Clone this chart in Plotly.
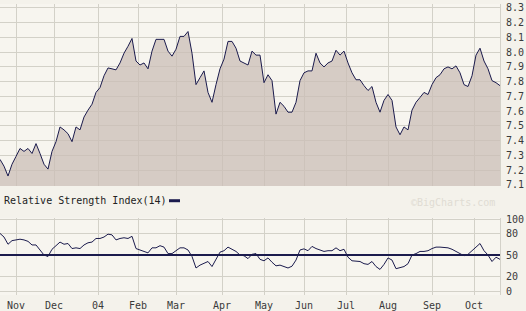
import pandas as pd
import plotly.graph_objects as go

# ---------------- data ----------------
start_date = "2003-10-22"
end_date = "2004-10-20"
holidays = ["2003-11-27", "2003-12-25", "2004-01-01", "2004-01-19", "2004-02-16",
            "2004-04-09", "2004-05-31", "2004-06-11", "2004-07-05", "2004-09-06"]

# closing price, every second trading day
price = [7.273, 7.227, 7.160, 7.240, 7.293, 7.347, 7.327, 7.347, 7.313, 7.380,
         7.313, 7.240, 7.207, 7.327, 7.393, 7.493, 7.473, 7.447, 7.393, 7.493,
         7.473, 7.560, 7.607, 7.647, 7.727, 7.760, 7.840, 7.893, 7.887, 7.880,
         7.927, 7.993, 8.040, 8.093, 7.940, 7.913, 7.927, 7.887, 8.007, 8.087,
         8.087, 8.087, 8.007, 7.973, 8.020, 8.107, 8.107, 8.140, 7.993, 7.780,
         7.827, 7.873, 7.727, 7.660, 7.780, 7.887, 7.953, 8.073, 8.073, 8.027,
         7.940, 7.927, 7.913, 8.007, 7.980, 7.980, 7.793, 7.847, 7.807, 7.580,
         7.660, 7.633, 7.593, 7.593, 7.660, 7.807, 7.860, 7.873, 7.873, 7.993,
         7.927, 7.900, 7.927, 7.940, 8.013, 7.980, 8.007, 7.927, 7.860, 7.813,
         7.813, 7.773, 7.740, 7.767, 7.660, 7.593, 7.673, 7.713, 7.673, 7.493,
         7.440, 7.493, 7.473, 7.607, 7.660, 7.693, 7.727, 7.713, 7.780, 7.827,
         7.847, 7.887, 7.900, 7.887, 7.907, 7.860, 7.780, 7.767, 7.840, 7.980,
         8.027, 7.940, 7.887, 7.807, 7.793, 7.773]

# Relative Strength Index(14), same dates
rsi = [80, 75, 65, 70, 71, 72, 71, 69, 64, 64,
       57, 50, 48, 58, 63, 68, 65, 66, 59, 60,
       59, 64, 67, 68, 73, 73, 75, 79, 78, 71,
       73, 74, 73, 76, 59, 57, 55, 53, 60, 60,
       63, 61, 52, 52, 56, 60, 60, 57, 48, 32,
       36, 39, 41, 34, 45, 54, 56, 61, 58, 55,
       50, 49, 45, 51, 52, 44, 42, 46, 40, 35,
       36, 34.5, 32, 34.5, 43, 57, 58.6, 56, 62, 59,
       57, 55, 56, 56, 60, 56, 58, 47, 42, 41,
       41, 38, 37, 41, 34, 30, 37, 46, 43, 31,
       32, 34, 38, 50, 52, 55, 55, 56, 59, 61,
       61, 61, 60, 58, 55, 52, 49, 51, 56, 61,
       66, 56, 50, 41, 47, 44]

month_labels = ["Nov", "Dec", "04", "Feb", "Mar", "Apr", "May", "Jun",
                "Jul", "Aug", "Sep", "Oct"]
price_ticks = [7.1, 7.2, 7.3, 7.4, 7.5, 7.6, 7.7, 7.8, 7.9, 8.0, 8.1, 8.2, 8.3]
rsi_ticks = [0, 20, 50, 80, 100]
rsi_level = 50

# ---------------- derived ----------------
hol = pd.to_datetime(holidays)
days = pd.bdate_range(start_date, end_date)
days = days[~days.isin(hol)]
obs = days[::2][:len(price)]
firsts = days.to_series().groupby([days.year, days.month]).first()
tick_dates = list(firsts.iloc[1:1 + len(month_labels)])

NAVY = "#1b1b4d"
GRID = "#d3d1c8"
FONT = dict(family="DejaVu Sans Mono", size=10, color="#3a3a3a")
rb = [dict(bounds=["sat", "mon"]), dict(values=[d.strftime("%Y-%m-%d") for d in hol])]

fig = go.Figure()
fig.add_trace(go.Scatter(x=obs, y=price, mode="lines", xaxis="x2", yaxis="y2",
                         line=dict(color=NAVY, width=1), fill="tozeroy",
                         fillcolor="rgba(203,190,183,0.75)", hoverinfo="x+y"))
fig.add_trace(go.Scatter(x=obs, y=rsi, mode="lines", xaxis="x", yaxis="y",
                         line=dict(color=NAVY, width=1)))

fig.add_shape(type="line", xref="x domain", yref="y", x0=0, x1=1,
              y0=rsi_level, y1=rsi_level, line=dict(color=NAVY, width=2), layer="above")

common_x = dict(type="date", rangebreaks=rb, range=[days[0], days[-1]],
                tickmode="array", tickvals=tick_dates, ticktext=month_labels,
                showgrid=True, gridcolor=GRID, gridwidth=1, zeroline=False,
                showline=False, tickfont=FONT, ticks="")

fig.update_layout(
    width=526, height=311,
    margin=dict(l=0, r=26, t=0, b=15),
    paper_bgcolor="#f4f2eb", plot_bgcolor="#f7f5ef",
    showlegend=False,
    xaxis=dict(domain=[0, 1], anchor="y", ticklabelstandoff=3, **common_x),
    xaxis2=dict(domain=[0, 1], anchor="y2", matches="x", showticklabels=False,
                **{k: v for k, v in common_x.items() if k not in ("range",)}),
    yaxis=dict(domain=[0, 0.265], anchor="x", side="right", range=[-5.5, 101.6],
               tickmode="array", tickvals=rsi_ticks, showgrid=True, gridcolor=GRID,
               zeroline=False, tickfont=FONT, ticks="outside", ticklen=3,
               tickcolor="rgba(0,0,0,0)", showline=True, linecolor=GRID),
    yaxis2=dict(domain=[0.375, 1], anchor="x2", side="right", range=[7.0933, 8.3267],
                tickmode="array", tickvals=price_ticks,
                ticktext=["%.1f" % t for t in price_ticks], showgrid=True,
                gridcolor=GRID, zeroline=False, tickfont=FONT, ticks="outside",
                ticklen=3, tickcolor="rgba(0,0,0,0)", showline=True, linecolor=GRID),
)

fig.add_annotation(text="Relative Strength Index(14)", xref="paper", yref="paper",
                   x=0.004, y=0.324, xanchor="left", yanchor="middle",
                   showarrow=False, font=dict(family="DejaVu Sans Mono", size=10, color="#222222"))
fig.add_shape(type="line", xref="paper", yref="paper", x0=0.338, x1=0.36,
              y0=0.324, y1=0.324, line=dict(color=NAVY, width=3))
fig.add_annotation(text="©BigCharts.com", xref="paper", yref="paper",
                   x=0.906, y=0.318, xanchor="center", yanchor="middle",
                   showarrow=False, font=dict(family="DejaVu Sans Mono", size=10, color="#e0dcd3"))

fig.write_html("out.html")
